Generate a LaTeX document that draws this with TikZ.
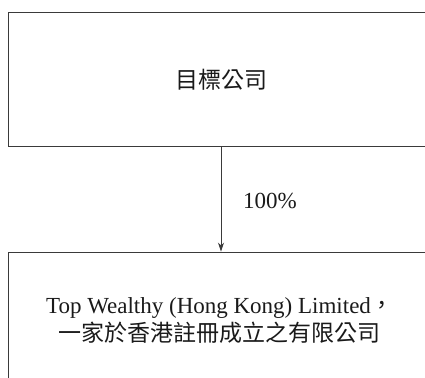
\documentclass[tikz,border=0pt]{standalone}
\usepackage{fontspec}
\setmainfont{Liberation Serif}
\newfontfamily\cjk{Noto Sans CJK TC}
\usetikzlibrary{arrows.meta}
\definecolor{linegray}{HTML}{3A3A3A}
\definecolor{textblack}{HTML}{1A1A1A}
\tikzset{
  entity/.style={draw=linegray, line width=0.9bp, rectangle, inner sep=0pt},
  label/.style={text=textblack, inner sep=0pt, font=\fontsize{23bp}{28bp}\selectfont, align=center},
  own/.style={draw=linegray, line width=0.9bp, -{Stealth[length=9bp,width=6bp]}}
}
\begin{document}
\begin{tikzpicture}[x=1bp,y=-1bp]
\useasboundingbox (0,0) rectangle (425,378);
\clip (0,0) rectangle (425,378);
\node[entity, minimum width=432bp, minimum height=134bp] (target) at (224,79) {};
\node[entity, minimum width=432bp, minimum height=170bp] (sub) at (224,337) {};
\node[label] (ttext) at (221,80) {\cjk 目標公司};
\node[label] (stext) at (220,321) {Top Wealthy (Hong Kong) Limited{\cjk ，}\\{\cjk 一家於香港註冊成立之有限公司}};
\node[label, anchor=west] (pct) at (243,201) {100\%};
\draw[own] (ttext |- target.south) -- (ttext |- sub.north);
\end{tikzpicture}
\end{document}
